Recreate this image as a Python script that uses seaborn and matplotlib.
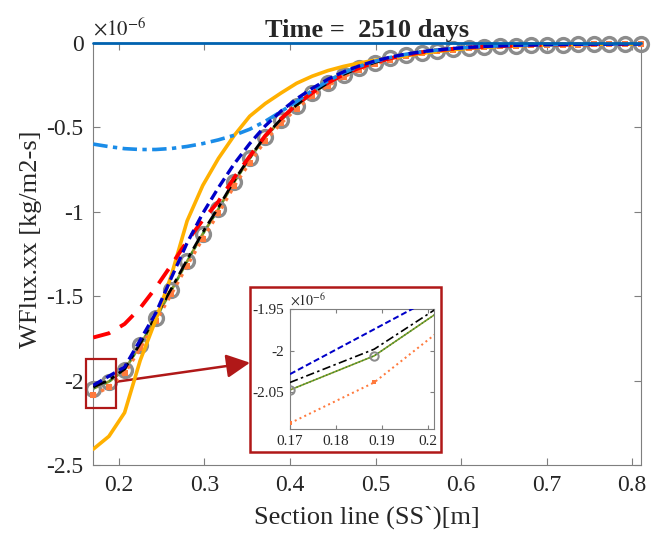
import matplotlib
matplotlib.use('Agg')
import matplotlib.pyplot as plt
from matplotlib.patches import Rectangle
from matplotlib.ticker import FuncFormatter
import seaborn as sns

# positions along section line SS` [m]
section_x = [0.1700, 0.1883, 0.2066, 0.2249, 0.2431, 0.2614, 0.2797, 0.2980, 0.3163,
             0.3346, 0.3529, 0.3711, 0.3894, 0.4077, 0.4260, 0.4443, 0.4626, 0.4809,
             0.4991, 0.5174, 0.5357, 0.5540, 0.5723, 0.5906, 0.6089, 0.6271, 0.6454,
             0.6637, 0.6820, 0.7003, 0.7186, 0.7369, 0.7551, 0.7734, 0.7917, 0.8100]

# WFlux.xx, in units of 1e-6 kg/m2-s
flux_zero = [0.0, 0.0, 0.0, 0.0, 0.0, 0.0, 0.0, 0.0, 0.0, 0.0, 0.0, 0.0,
             0.0, 0.0, 0.0, 0.0, 0.0, 0.0, 0.0, 0.0, 0.0, 0.0, 0.0, 0.0,
             0.0, 0.0, 0.0, 0.0, 0.0, 0.0, 0.0, 0.0, 0.0, 0.0, 0.0, 0.0]
flux_lightblue = [-0.600, -0.615, -0.627, -0.632, -0.632, -0.626, -0.614, -0.597, -0.575,
                  -0.548, -0.512, -0.465, -0.408, -0.348, -0.283, -0.226, -0.178, -0.140,
                  -0.110, -0.087, -0.068, -0.054, -0.043, -0.034, -0.027, -0.022, -0.018,
                  -0.015, -0.013, -0.011, -0.010, -0.009, -0.008, -0.008, -0.007, -0.007]
flux_yellow = [-2.406, -2.330, -2.190, -1.880, -1.640, -1.375, -1.055, -0.845, -0.685,
               -0.550, -0.435, -0.360, -0.298, -0.240, -0.198, -0.165, -0.140, -0.120,
               -0.104, -0.090, -0.077, -0.063, -0.051, -0.041, -0.033, -0.027, -0.022,
               -0.018, -0.015, -0.013, -0.011, -0.010, -0.009, -0.008, -0.008, -0.007]
flux_red = [-1.745, -1.720, -1.665, -1.570, -1.450, -1.315, -1.175, -1.050, -0.940,
            -0.800, -0.672, -0.550, -0.450, -0.366, -0.296, -0.237, -0.188, -0.149,
            -0.117, -0.092, -0.072, -0.057, -0.045, -0.036, -0.029, -0.024, -0.020,
            -0.017, -0.014, -0.012, -0.011, -0.010, -0.009, -0.008, -0.008, -0.007]
flux_blue = [-2.028, -1.974, -1.920, -1.760, -1.600, -1.390, -1.185, -1.010, -0.858,
             -0.718, -0.597, -0.492, -0.405, -0.332, -0.270, -0.216, -0.172, -0.137,
             -0.108, -0.085, -0.067, -0.053, -0.042, -0.034, -0.027, -0.022, -0.018,
             -0.015, -0.013, -0.011, -0.010, -0.009, -0.008, -0.008, -0.007, -0.007]
flux_black = [-2.038, -1.998, -1.932, -1.780, -1.620, -1.455, -1.285, -1.122, -0.975,
              -0.817, -0.678, -0.552, -0.453, -0.368, -0.297, -0.238, -0.188, -0.149,
              -0.117, -0.092, -0.072, -0.057, -0.045, -0.036, -0.029, -0.024, -0.020,
              -0.017, -0.014, -0.012, -0.011, -0.010, -0.009, -0.008, -0.008, -0.007]
flux_circles = [-2.047, -2.006, -1.937, -1.790, -1.630, -1.465, -1.295, -1.132, -0.985,
                -0.825, -0.685, -0.558, -0.458, -0.372, -0.300, -0.240, -0.190, -0.150,
                -0.118, -0.093, -0.073, -0.058, -0.046, -0.037, -0.030, -0.024, -0.020,
                -0.017, -0.014, -0.012, -0.011, -0.010, -0.009, -0.008, -0.008, -0.007]
flux_orange = [-2.087, -2.038, -1.958, -1.810, -1.650, -1.488, -1.320, -1.160, -1.010,
               -0.850, -0.710, -0.580, -0.478, -0.390, -0.316, -0.255, -0.202, -0.160,
               -0.127, -0.100, -0.080, -0.063, -0.050, -0.040, -0.032, -0.026, -0.021,
               -0.018, -0.015, -0.013, -0.012, -0.011, -0.010, -0.009, -0.009, -0.008]

main_xticks = [0.2, 0.3, 0.4, 0.5, 0.6, 0.7, 0.8]
main_yticks = [0, -0.5, -1, -1.5, -2, -2.5]
inset_xticks = [0.17, 0.18, 0.19, 0.2]
inset_yticks = [-2.05, -2, -1.95]

frame_red = '#B01818'
axis_gray = '#7f7f7f'

sns.set_theme(style='ticks')
plt.rcParams['font.family'] = ['Liberation Serif', 'DejaVu Serif']
plt.rcParams['mathtext.fontset'] = 'stix'
plt.rcParams['axes.unicode_minus'] = False


def draw_curves(a, k, clip):
    # k scales line widths / marker sizes (1 = main axes)
    sns.lineplot(x=section_x, y=flux_circles, ax=a, color='#8a9a2a', lw=2.0 * k, zorder=2)
    sns.lineplot(x=section_x, y=flux_circles, ax=a, color='#2e8b2e', lw=1.6 * k,
                 linestyle=':', zorder=2)
    sns.lineplot(x=section_x, y=flux_circles, ax=a, color=axis_gray, linestyle='',
                 marker='o', markersize=10 * k, markerfacecolor='none',
                 markeredgecolor='#8c8c8c', markeredgewidth=2.4 * k, clip_on=clip, zorder=3)
    sns.lineplot(x=section_x, y=flux_orange, ax=a, color='#ff7a3d', lw=2.4 * k,
                 linestyle=':', marker='s', markersize=4.8 * k, markeredgewidth=0,
                 clip_on=clip, zorder=4)
    sns.lineplot(x=section_x, y=flux_black, ax=a, color='black', lw=2.0 * k,
                 linestyle=(0, (5, 2, 1.5, 2)), zorder=5)
    sns.lineplot(x=section_x, y=flux_yellow, ax=a, color='#ffb000', lw=2.6 * k, zorder=5)
    sns.lineplot(x=section_x, y=flux_red, ax=a, color='#ff0000', lw=2.8 * k,
                 linestyle=(0, (4.5, 3)), zorder=6)
    sns.lineplot(x=section_x, y=flux_lightblue, ax=a, color='#1a8ce8', lw=2.6 * k,
                 linestyle=(0, (4, 1.5, 1.2, 1.5)), zorder=6)
    sns.lineplot(x=section_x, y=flux_blue, ax=a, color='#0000c8', lw=2.4 * k,
                 linestyle=(0, (3, 1.5)), zorder=7)
    sns.lineplot(x=section_x, y=flux_zero, ax=a, color='#0062b0', lw=2.0 * k,
                 clip_on=clip, zorder=8)


def style_axes(a, labelsize, pad):
    for s in a.spines.values():
        s.set_color(axis_gray)
        s.set_linewidth(0.8)
        s.set_visible(True)
    a.tick_params(direction='in', length=5, width=0.8, color=axis_gray,
                  labelsize=labelsize, labelcolor='#262626', pad=pad,
                  top=True, right=True)
    fmt = FuncFormatter(lambda v, p: '%g' % round(v, 4))
    a.xaxis.set_major_formatter(fmt)
    a.yaxis.set_major_formatter(fmt)


fig = plt.figure(figsize=(6.62, 5.35), dpi=100)
ax = fig.add_axes([0.1409, 0.1308, 0.8269, 0.7893])
ax.set_facecolor('white')
draw_curves(ax, 1.0, False)
ax.set_xlim(0.17, 0.81)
ax.set_ylim(-2.5, 0)
ax.set_xticks(main_xticks)
ax.set_yticks(main_yticks)
style_axes(ax, 17, 7)
ax.set_xlabel('Section line (SS`)[m]', fontsize=19, color='#262626')
ax.set_ylabel('WFlux.xx [kg/m2-s]', fontsize=19, color='#262626')
ax.xaxis.set_label_coords(0.5, -0.095)
ax.yaxis.set_label_coords(-0.094, 0.535)
ax.set_title('Time =  2510 days', fontsize=19, fontweight='bold', pad=4)
ax.text(0.0, 1.005, r'$\times10^{-6}$', transform=ax.transAxes, ha='left', va='bottom',
        fontsize=15, color='#262626')

# zoom marker and arrow
ax.add_patch(Rectangle((0.162, -2.16), 0.0346, 0.285, fill=False, ec=frame_red,
                       lw=1.6, clip_on=False, zorder=10))
ax.annotate('', xy=(250 / 662, 1 - 362.7 / 535), xycoords='figure fraction',
            xytext=(116.7 / 662, 1 - 381.7 / 535), textcoords='figure fraction',
            arrowprops=dict(arrowstyle='-|>,head_length=1.2,head_width=0.6',
                            color=frame_red, lw=1.8, shrinkA=0, shrinkB=0),
            annotation_clip=False)

# inset frame
fig.add_artist(Rectangle((250 / 662, 1 - 452.3 / 535), 191 / 662, 165 / 535,
                         transform=fig.transFigure, facecolor='white',
                         edgecolor=frame_red, lw=1.8, zorder=2))

ins = fig.add_axes([290 / 662, 1 - 429 / 535, 144 / 662, 119.7 / 535])
ins.set_zorder(3)
ins.set_facecolor('white')
draw_curves(ins, 0.6, True)
ins.set_xlim(0.17, 0.2013)
ins.set_ylim(-2.094, -1.95)
ins.set_xticks(inset_xticks)
ins.set_yticks(inset_yticks)
style_axes(ins, 11, 4)
ins.tick_params(length=3)
ins.text(0.0, 1.01, r'$\times10^{-6}$', transform=ins.transAxes, ha='left', va='bottom',
         fontsize=10, color='#262626')

fig.savefig('out.png', dpi=100)
